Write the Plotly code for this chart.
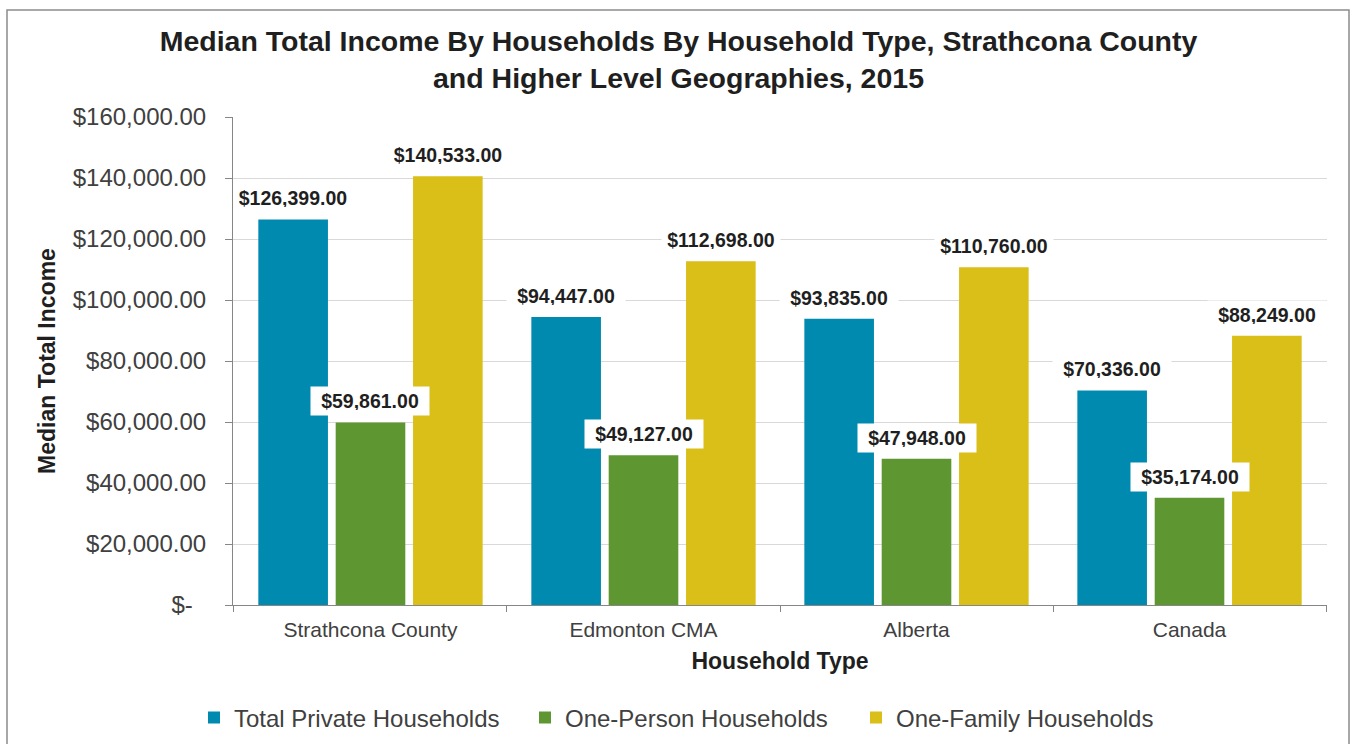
import plotly.graph_objs as go

# Data
regions = ['Strathcona County', 'Edmonton CMA', 'Alberta', 'Canada']
total_private = [126399, 94447, 93835, 70336]
one_person = [59861, 49127, 47948, 35174]
one_family = [140533, 112698, 110760, 88249]

series_names = ['Total Private Households', 'One-Person Households', 'One-Family Households']
series_values = [total_private, one_person, one_family]
colors = ['#008AB0', '#5E9732', '#D9BF17']

y_ticks = [0, 20000, 40000, 60000, 80000, 100000, 120000, 140000, 160000]
y_ticktext = ['$-\u00a0\u00a0'] + ['${:,.2f}'.format(v) for v in y_ticks[1:]]

FONT = 'Liberation Sans, Arial, sans-serif'
W, H = 1357, 744
ML, MR, MT, MB = 233, 30, 117, 139
BARGAP, GROUPGAP = 0.15, 0.1

data = []
for name, vals, col in zip(series_names, series_values, colors):
    data.append(go.Bar(x=regions, y=vals, name=name, marker=dict(color=col, line=dict(width=0))))

# data labels with white fill, placed over each bar
plot_w = W - ML - MR
slot = plot_w / len(regions) * (1 - BARGAP) / len(series_names)
annotations = []
for i, vals in enumerate(series_values):
    for reg, v in zip(regions, vals):
        annotations.append(dict(
            x=reg, y=v, xref='x', yref='y', text='${:,.2f}'.format(v),
            showarrow=False, yanchor='bottom', yshift=6, xshift=(i - 1) * slot,
            bgcolor='white', borderpad=5, width=108, height=18,
            font=dict(family=FONT, size=19.5, color='#1f1f1f', weight='bold')))

layout = go.Layout(
    width=W, height=H,
    margin=dict(l=ML, r=MR, t=MT, b=MB),
    paper_bgcolor='white', plot_bgcolor='white',
    font=dict(family=FONT, color='#404040'),
    title=dict(text='<b>Median Total Income By Households By Household Type, Strathcona County<br>'
                    'and Higher Level Geographies, 2015</b>',
               x=0.5, xanchor='center', y=1 - 51 / H, yanchor='top',
               font=dict(family=FONT, size=28.5, color='#1f1f1f')),
    barmode='group', bargap=BARGAP, bargroupgap=GROUPGAP,
    xaxis=dict(title=dict(text='<b>Household Type</b>', standoff=12,
                          font=dict(family=FONT, size=23, color='#1f1f1f')),
               tickfont=dict(family=FONT, size=21, color='#404040'), ticklabelstandoff=6,
               showline=True, linecolor='#868686', linewidth=1,
               ticks='outside', tickson='boundaries', ticklen=6, tickcolor='#868686',
               showgrid=False),
    yaxis=dict(title=dict(text='<b>Median Total Income</b>', standoff=10,
                          font=dict(family=FONT, size=23, color='#1f1f1f')),
               range=[0, 160000], tickvals=y_ticks, ticktext=y_ticktext,
               tickfont=dict(family=FONT, size=24, color='#404040'),
               showline=True, linecolor='#868686', linewidth=1,
               ticks='outside', ticklen=7, tickcolor='#868686', ticklabelstandoff=14,
               showgrid=True, gridcolor='#d9d9d9', gridwidth=1, zeroline=False),
    legend=dict(orientation='h', xref='container', yref='container',
                x=0.5 + 12 / W, xanchor='center', y=26 / H, yanchor='middle',
                font=dict(family=FONT, size=24, color='#404040'),
                entrywidth=286, itemwidth=30),
    annotations=annotations,
    shapes=[dict(type='rect', xref='paper', yref='paper',
                 x0=(7 - ML) / plot_w, x1=(1349 - ML) / plot_w,
                 y0=-(H - (H - MB) + 20) / (H - MT - MB), y1=(H - MB - 10) / (H - MT - MB),
                 line=dict(color='#8c8c8c', width=1.5), fillcolor='rgba(0,0,0,0)', layer='below')],
)

fig = go.Figure(data=data, layout=layout)
fig.write_html('out.html', config={'displayModeBar': False},
               post_script="document.body.style.margin='0';")
